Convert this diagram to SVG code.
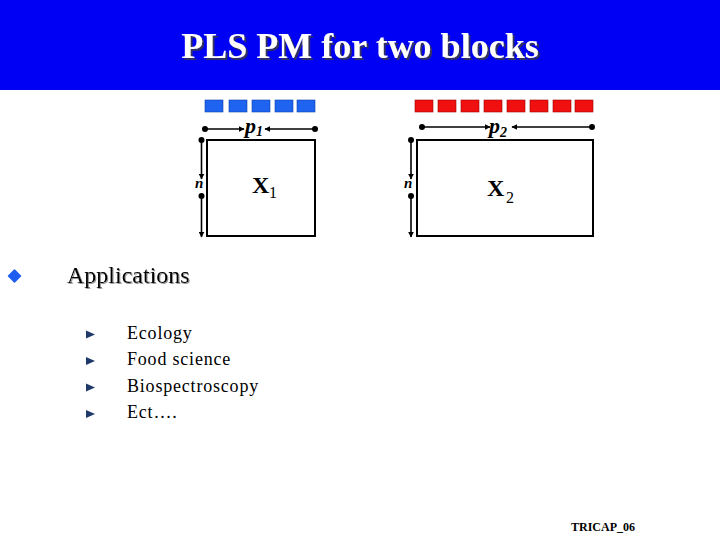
<svg xmlns="http://www.w3.org/2000/svg" width="720" height="540" viewBox="0 0 720 540">
<defs>
<style>
.serif{font-family:"Liberation Serif","Times New Roman",serif}
.ln{stroke:#000;stroke-width:1.6;fill:none}
.dot{fill:#000}
.box{fill:#fff;stroke:#000;stroke-width:2}
.lbl{font-family:"Liberation Serif","Times New Roman",serif;font-style:italic;font-weight:bold;fill:#000}
.sq1{fill:#1e64f0;stroke:#1040b0;stroke-width:0.6}
.sq2{fill:#f01010;stroke:#a00000;stroke-width:0.6}
.tri{fill:#1f3a6a}
.item{font-family:"Liberation Serif","Times New Roman",serif;font-size:18px;letter-spacing:0.8px;fill:#000}
</style>
<filter id="sh1" x="-5%" y="-20%" width="110%" height="150%">
<feDropShadow dx="2" dy="2" stdDeviation="0.3" flood-color="#303060" flood-opacity="1"/>
</filter>
<filter id="sh2" x="-5%" y="-20%" width="110%" height="150%">
<feDropShadow dx="1" dy="1" stdDeviation="0.3" flood-color="#999" flood-opacity="1"/>
</filter>
<marker id="ah" viewBox="0 0 10 10" refX="9" refY="5" markerWidth="6" markerHeight="6" orient="auto" markerUnits="userSpaceOnUse">
<path d="M0,0 L10,5 L0,10 z" fill="#000"/>
</marker>
</defs>
<rect width="720" height="540" fill="#fff"/>
<g id="header">
<rect x="0" y="0" width="720" height="90" fill="#0000f5"/>
<text x="360" y="58" text-anchor="middle" class="serif" font-size="36" font-weight="bold" fill="#fff" filter="url(#sh1)">PLS PM for two blocks</text>
</g>
<g id="block1">
<rect class="sq1" x="205" y="100" width="18" height="12"/>
<rect class="sq1" x="229" y="100" width="18" height="12"/>
<rect class="sq1" x="252" y="100" width="18" height="12"/>
<rect class="sq1" x="275" y="100" width="18" height="12"/>
<rect class="sq1" x="297" y="100" width="18" height="12"/>
<rect class="box" x="207" y="140" width="108" height="96"/>
<text class="serif" x="252" y="193" font-size="24" font-weight="bold">X</text>
<text class="serif" x="269" y="198" font-size="16">1</text>
</g>
<g id="block2">
<rect class="sq2" x="415" y="100" width="18" height="12"/>
<rect class="sq2" x="438" y="100" width="18" height="12"/>
<rect class="sq2" x="461" y="100" width="18" height="12"/>
<rect class="sq2" x="484" y="100" width="18" height="12"/>
<rect class="sq2" x="507" y="100" width="18" height="12"/>
<rect class="sq2" x="530" y="100" width="18" height="12"/>
<rect class="sq2" x="553" y="100" width="18" height="12"/>
<rect class="sq2" x="575" y="100" width="18" height="12"/>
<rect class="box" x="417" y="140" width="176" height="96"/>
<text class="serif" x="487" y="196" font-size="24" font-weight="bold">X</text>
<text class="serif" x="506" y="203" font-size="16">2</text>
</g>
<g id="connectors">
<line class="ln" x1="205" y1="129" x2="244" y2="129" marker-end="url(#ah)"/>
<line class="ln" x1="315" y1="129" x2="265" y2="129" marker-end="url(#ah)"/>
<circle class="dot" cx="205" cy="129" r="3"/>
<circle class="dot" cx="315" cy="129" r="3"/>
<line class="ln" x1="201.5" y1="140" x2="201.5" y2="179" marker-end="url(#ah)"/>
<line class="ln" x1="201.5" y1="196" x2="201.5" y2="237" marker-end="url(#ah)"/>
<circle class="dot" cx="201.5" cy="140" r="3"/>
<circle class="dot" cx="201.5" cy="196" r="3"/>
<line class="ln" x1="422" y1="127" x2="490" y2="127" marker-end="url(#ah)"/>
<line class="ln" x1="592" y1="127" x2="512" y2="127" marker-end="url(#ah)"/>
<circle class="dot" cx="422" cy="127" r="3"/>
<circle class="dot" cx="592" cy="127" r="3"/>
<line class="ln" x1="411" y1="140" x2="411" y2="179" marker-end="url(#ah)"/>
<line class="ln" x1="411" y1="196" x2="411" y2="237" marker-end="url(#ah)"/>
<circle class="dot" cx="411" cy="140" r="3"/>
<circle class="dot" cx="411" cy="196" r="3"/>
</g>
<g id="labels">
<text class="lbl" x="245" y="133" font-size="22">p<tspan font-size="14" dy="3">1</tspan></text>
<text class="lbl" x="489" y="133" font-size="22">p<tspan font-size="14" dy="4">2</tspan></text>
<text class="lbl" x="195" y="188" font-size="15">n</text>
<text class="lbl" x="404" y="188" font-size="15">n</text>
</g>
<g id="bullets">
<path d="M14.5,270 L20.5,276 L14.5,282 L8.5,276 z" fill="#1e5ef0" stroke="#1e5ef0" stroke-width="1.5" stroke-linejoin="round"/>
<text class="serif" x="67" y="283" font-size="24" fill="#000" filter="url(#sh2)">Applications</text>
<path class="tri" d="M86,330.5 L95,334.5 L86,338.5 z"/>
<path class="tri" d="M86,357 L95,361 L86,365 z"/>
<path class="tri" d="M86,383.5 L95,387.5 L86,391.5 z"/>
<path class="tri" d="M86,410 L95,414 L86,418 z"/>
<text class="item" x="127" y="338.5">Ecology</text>
<text class="item" x="127" y="365">Food science</text>
<text class="item" x="127" y="391.5">Biospectroscopy</text>
<text class="item" x="127" y="418">Ect….</text>
</g>
<text class="serif" x="571" y="531" font-size="12" font-weight="bold">TRICAP_06</text>
</svg>
